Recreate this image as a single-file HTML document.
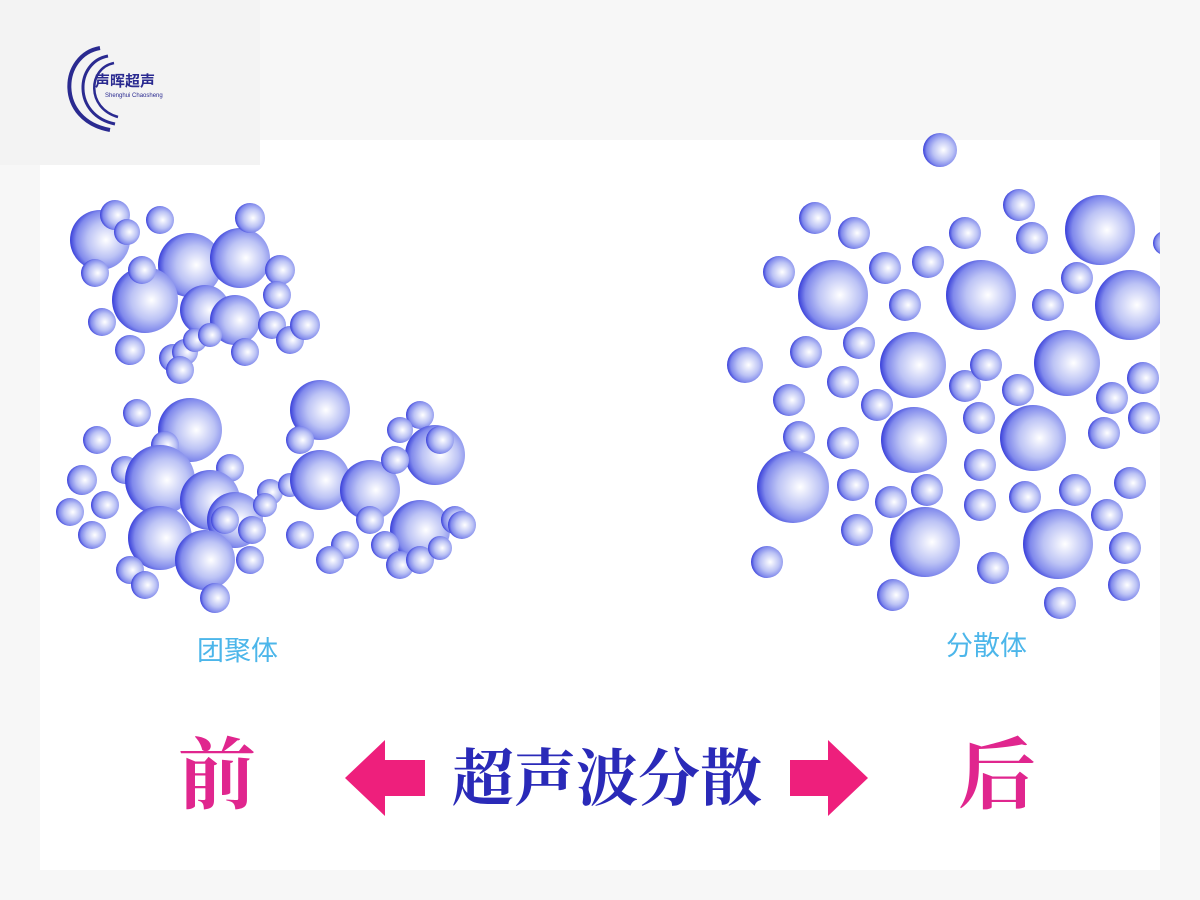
<!DOCTYPE html>
<html><head><meta charset="utf-8"><style>
html,body{margin:0;padding:0;width:1200px;height:900px;overflow:hidden;background:#f7f7f7}
</style></head><body>
<svg width="1200" height="900" xmlns="http://www.w3.org/2000/svg" style="position:absolute;left:0;top:0">
<defs>
<radialGradient id="g" cx="0.58" cy="0.5" r="0.6" fx="0.6" fy="0.5">
<stop offset="0" stop-color="#ffffff"/>
<stop offset="0.5" stop-color="#bcc3f5"/>
<stop offset="0.8" stop-color="#8089ec"/>
<stop offset="1" stop-color="#2a30d6"/>
</radialGradient>
</defs>
<rect x="0" y="0" width="1200" height="900" fill="#f7f7f7"/>
<rect x="40" y="140" width="1120" height="730" fill="#ffffff"/>
<rect x="0" y="0" width="260" height="165" fill="#f3f3f3"/>
<!-- logo -->
<g fill="none" stroke="#2a2a90">
<path d="M100 48 C60 55 55 120 110 130" stroke-width="4"/>
<path d="M108 56 C75 62 72 115 115 124" stroke-width="3"/>
<path d="M114 63 C88 68 86 108 118 117" stroke-width="2.5"/>
</g>
<text x="95" y="86" font-family="Liberation Sans,'Noto Sans CJK SC',sans-serif" font-size="15" font-weight="bold" fill="#2a2a90">声晖超声</text>
<text x="105" y="97" font-family="Liberation Sans,sans-serif" font-size="6" fill="#2a2a90">Shenghui Chaosheng</text>
<g fill="url(#g)">
<circle cx="100" cy="240" r="30"/><circle cx="115" cy="215" r="15"/><circle cx="127" cy="232" r="13"/><circle cx="160" cy="220" r="14"/>
<circle cx="190" cy="265" r="32"/><circle cx="240" cy="258" r="30"/><circle cx="250" cy="218" r="15"/>
<circle cx="95" cy="273" r="14"/><circle cx="102" cy="322" r="14"/><circle cx="145" cy="300" r="33"/><circle cx="142" cy="270" r="14"/>
<circle cx="205" cy="310" r="25"/><circle cx="235" cy="320" r="25"/><circle cx="280" cy="270" r="15"/><circle cx="277" cy="295" r="14"/>
<circle cx="130" cy="350" r="15"/><circle cx="173" cy="358" r="14"/><circle cx="185" cy="352" r="13"/><circle cx="195" cy="340" r="12"/><circle cx="210" cy="335" r="12"/>
<circle cx="245" cy="352" r="14"/><circle cx="272" cy="325" r="14"/><circle cx="290" cy="340" r="14"/><circle cx="305" cy="325" r="15"/><circle cx="180" cy="370" r="14"/>
<circle cx="190" cy="430" r="32"/><circle cx="137" cy="413" r="14"/><circle cx="97" cy="440" r="14"/><circle cx="165" cy="445" r="14"/>
<circle cx="82" cy="480" r="15"/><circle cx="125" cy="470" r="14"/><circle cx="160" cy="480" r="35"/><circle cx="230" cy="468" r="14"/>
<circle cx="210" cy="500" r="30"/><circle cx="70" cy="512" r="14"/><circle cx="105" cy="505" r="14"/><circle cx="92" cy="535" r="14"/>
<circle cx="235" cy="520" r="28"/><circle cx="160" cy="538" r="32"/><circle cx="270" cy="492" r="13"/><circle cx="205" cy="560" r="30"/>
<circle cx="225" cy="520" r="14"/><circle cx="252" cy="530" r="14"/><circle cx="250" cy="560" r="14"/><circle cx="130" cy="570" r="14"/><circle cx="145" cy="585" r="14"/><circle cx="215" cy="598" r="15"/>
<circle cx="320" cy="410" r="30"/><circle cx="300" cy="440" r="14"/><circle cx="420" cy="415" r="14"/><circle cx="400" cy="430" r="13"/>
<circle cx="290" cy="485" r="12"/><circle cx="265" cy="505" r="12"/><circle cx="320" cy="480" r="30"/><circle cx="370" cy="490" r="30"/>
<circle cx="435" cy="455" r="30"/><circle cx="395" cy="460" r="14"/><circle cx="440" cy="440" r="14"/><circle cx="420" cy="530" r="30"/>
<circle cx="300" cy="535" r="14"/><circle cx="345" cy="545" r="14"/><circle cx="330" cy="560" r="14"/><circle cx="370" cy="520" r="14"/>
<circle cx="385" cy="545" r="14"/><circle cx="400" cy="565" r="14"/><circle cx="420" cy="560" r="14"/><circle cx="440" cy="548" r="12"/>
<circle cx="455" cy="520" r="14"/><circle cx="462" cy="525" r="14"/>
<circle cx="940" cy="150" r="17"/><circle cx="815" cy="218" r="16"/><circle cx="854" cy="233" r="16"/><circle cx="965" cy="233" r="16"/>
<circle cx="1019" cy="205" r="16"/><circle cx="1032" cy="238" r="16"/><circle cx="1100" cy="230" r="35"/><circle cx="1165" cy="243" r="12"/>
<circle cx="779" cy="272" r="16"/><circle cx="885" cy="268" r="16"/><circle cx="928" cy="262" r="16"/><circle cx="833" cy="295" r="35"/>
<circle cx="981" cy="295" r="35"/><circle cx="905" cy="305" r="16"/><circle cx="1048" cy="305" r="16"/><circle cx="1077" cy="278" r="16"/>
<circle cx="1130" cy="305" r="35"/><circle cx="806" cy="352" r="16"/><circle cx="859" cy="343" r="16"/><circle cx="913" cy="365" r="33"/>
<circle cx="1067" cy="363" r="33"/><circle cx="745" cy="365" r="18"/><circle cx="843" cy="382" r="16"/><circle cx="877" cy="405" r="16"/>
<circle cx="965" cy="386" r="16"/><circle cx="986" cy="365" r="16"/><circle cx="1018" cy="390" r="16"/><circle cx="1112" cy="398" r="16"/>
<circle cx="1143" cy="378" r="16"/><circle cx="789" cy="400" r="16"/><circle cx="914" cy="440" r="33"/><circle cx="1033" cy="438" r="33"/>
<circle cx="799" cy="437" r="16"/><circle cx="843" cy="443" r="16"/><circle cx="979" cy="418" r="16"/><circle cx="1144" cy="418" r="16"/>
<circle cx="1104" cy="433" r="16"/><circle cx="793" cy="487" r="36"/><circle cx="853" cy="485" r="16"/><circle cx="980" cy="465" r="16"/>
<circle cx="927" cy="490" r="16"/><circle cx="1025" cy="497" r="16"/><circle cx="891" cy="502" r="16"/><circle cx="980" cy="505" r="16"/>
<circle cx="1075" cy="490" r="16"/><circle cx="1130" cy="483" r="16"/><circle cx="1107" cy="515" r="16"/><circle cx="925" cy="542" r="35"/>
<circle cx="1058" cy="544" r="35"/><circle cx="857" cy="530" r="16"/><circle cx="1125" cy="548" r="16"/><circle cx="1124" cy="585" r="16"/>
<circle cx="767" cy="562" r="16"/><circle cx="993" cy="568" r="16"/><circle cx="893" cy="595" r="16"/><circle cx="1060" cy="603" r="16"/>
</g>
<rect x="1160" y="140" width="40" height="760" fill="#f7f7f7"/>
<g font-family="Liberation Sans,'Noto Sans CJK SC',sans-serif">
<text x="197" y="660" font-size="27" fill="#4cb6ea">团聚体</text>
<text x="946" y="655" font-size="27" fill="#4cb6ea">分散体</text>
<text x="178" y="802" font-size="78" font-family="Liberation Serif,'Noto Serif CJK SC',serif" font-weight="bold" fill="#e0268e">前</text>
<text x="958" y="802" font-size="78" font-family="Liberation Serif,'Noto Serif CJK SC',serif" font-weight="bold" fill="#e0268e">后</text>
<text x="452" y="800" font-size="62" font-weight="bold" font-family="Liberation Serif,'Noto Serif CJK SC',serif" fill="#2a2ab8">超声波分散</text>
</g>
<polygon points="345,778 385,740 385,760 425,760 425,796 385,796 385,816" fill="#ee1f7c"/>
<polygon points="868,778 828,740 828,760 790,760 790,796 828,796 828,816" fill="#ee1f7c"/>
</svg>
</body></html>
